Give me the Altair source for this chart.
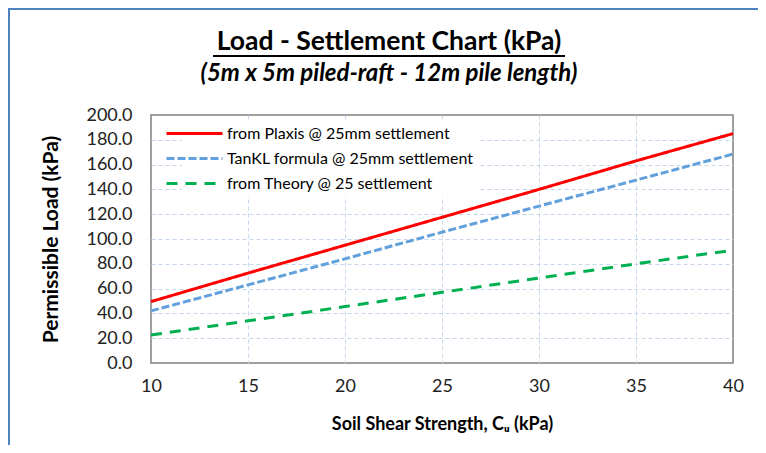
import altair as alt
import pandas as pd

# Values
cu = [10, 15, 20, 25, 30, 35, 40]
plaxis = [49.5, 72.5, 95.0, 117.5, 140.0, 163.0, 185.0]
tankl = [42.0, 63.0, 84.0, 105.5, 126.5, 147.5, 168.5]
theory = [22.5, 34.0, 45.5, 57.0, 68.5, 80.0, 91.0]
y_ticks = [0, 20, 40, 60, 80, 100, 120, 140, 160, 180, 200]

series_names = [
    "from Plaxis @ 25mm settlement",
    "TanKL formula @ 25mm settlement",
    "from Theory @ 25 settlement",
]
series_colors = ["#FF0000", "#62A0DC", "#00B050"]
series_dashes = [[1, 0], [8, 3], [11, 8]]

rows = []
for name, vals in zip(series_names, [plaxis, tankl, theory]):
    for x, v in zip(cu, vals):
        rows.append({"Cu": x, "Load": v, "Series": name})
df = pd.DataFrame(rows)

FONT = "Lato"
W, H = 582, 248
PAD = {"left": 143, "top": 107, "right": 25, "bottom": 82}

legend = alt.Legend(
    title=None,
    orient="none",
    legendX=31,
    legendY=6,
    fillColor="white",
    padding=4,
    symbolType="M-4,0H4",
    symbolSize=196,
    symbolStrokeWidth=3,
    labelFont=FONT,
    labelFontSize=16,
    labelColor="black",
    labelOffset=24,
    labelLimit=400,
    rowPadding=8,
)

grid_hide_y = {"condition": {"test": "datum.value === 0 || datum.value === 200", "value": 0}, "value": 1}
grid_hide_x = {"condition": {"test": "datum.value === 10 || datum.value === 40", "value": 0}, "value": 1}

lines = alt.Chart(df).mark_line(strokeWidth=3).encode(
    x=alt.X(
        "Cu:Q",
        scale=alt.Scale(domain=[10, 40], nice=False, zero=False),
        axis=alt.Axis(
            values=cu,
            title="Soil Shear Strength, Cᵤ (kPa)",
            grid=True,
            gridDash=[4, 3],
            gridColor="#C6D6EC",
            gridOpacity=grid_hide_x,
            ticks=False,
            domain=False,
            labelFlush=False,
            labelPadding=14,
            titlePadding=20,
        ),
    ),
    y=alt.Y(
        "Load:Q",
        scale=alt.Scale(domain=[0, 200], nice=False),
        axis=alt.Axis(
            values=y_ticks,
            format=".1f",
            title="Permissible Load (kPa)",
            titleFontSize=21,
            grid=True,
            gridDash=[4, 3],
            gridColor="#C6D6EC",
            gridOpacity=grid_hide_y,
            ticks=False,
            domain=False,
            labelFlush=False,
            labelPadding=19,
            titlePadding=24,
        ),
    ),
    color=alt.Color(
        "Series:N",
        scale=alt.Scale(domain=series_names, range=series_colors),
        legend=legend,
    ),
    strokeDash=alt.StrokeDash(
        "Series:N",
        scale=alt.Scale(domain=series_names, range=series_dashes),
        legend=legend,
    ),
)

one = pd.DataFrame({"u": [0]})

# underline of the main title
underline = alt.Chart(one).mark_rule(color="black", strokeWidth=2, clip=False).encode(
    x=alt.value(62), x2=alt.value(414), y=alt.value(-59)
)
# chart-area frame (left and top edges visible in the reference)
frame_left = alt.Chart(one).mark_rule(color="#4F81BD", strokeWidth=2, clip=False).encode(
    x=alt.value(-PAD["left"] + 1), y=alt.value(-PAD["top"]), y2=alt.value(H + PAD["bottom"])
)
frame_top = alt.Chart(one).mark_rule(color="#4F81BD", strokeWidth=2, clip=False).encode(
    y=alt.value(-PAD["top"] + 1), x=alt.value(-PAD["left"]), x2=alt.value(W + PAD["right"])
)

chart = alt.layer(lines, underline, frame_left, frame_top).properties(
    width=W,
    height=H,
    padding=PAD,
    autosize=alt.AutoSizeParams(type="none"),
    background="white",
    title=alt.TitleParams(
        text="Load - Settlement Chart (kPa)",
        subtitle="(5m x 5m piled-raft - 12m pile length)",
        font=FONT,
        fontSize=26.5,
        fontWeight="bold",
        color="black",
        subtitleFont=FONT,
        subtitleFontSize=24,
        subtitleFontStyle="italic",
        subtitleFontWeight="bold",
        subtitleColor="black",
        subtitlePadding=7,
        anchor="middle",
        frame="group",
        dx=-53,
        offset=-79,
    ),
).configure_view(
    stroke="#808080", strokeWidth=1.5
).configure_axis(
    labelFont=FONT,
    labelFontSize=18,
    labelColor="#222222",
    titleFont=FONT,
    titleFontSize=18,
    titleFontWeight="bold",
    titleColor="black",
)

chart.save("out.html", embed_options={"renderer": "svg", "actions": False})
